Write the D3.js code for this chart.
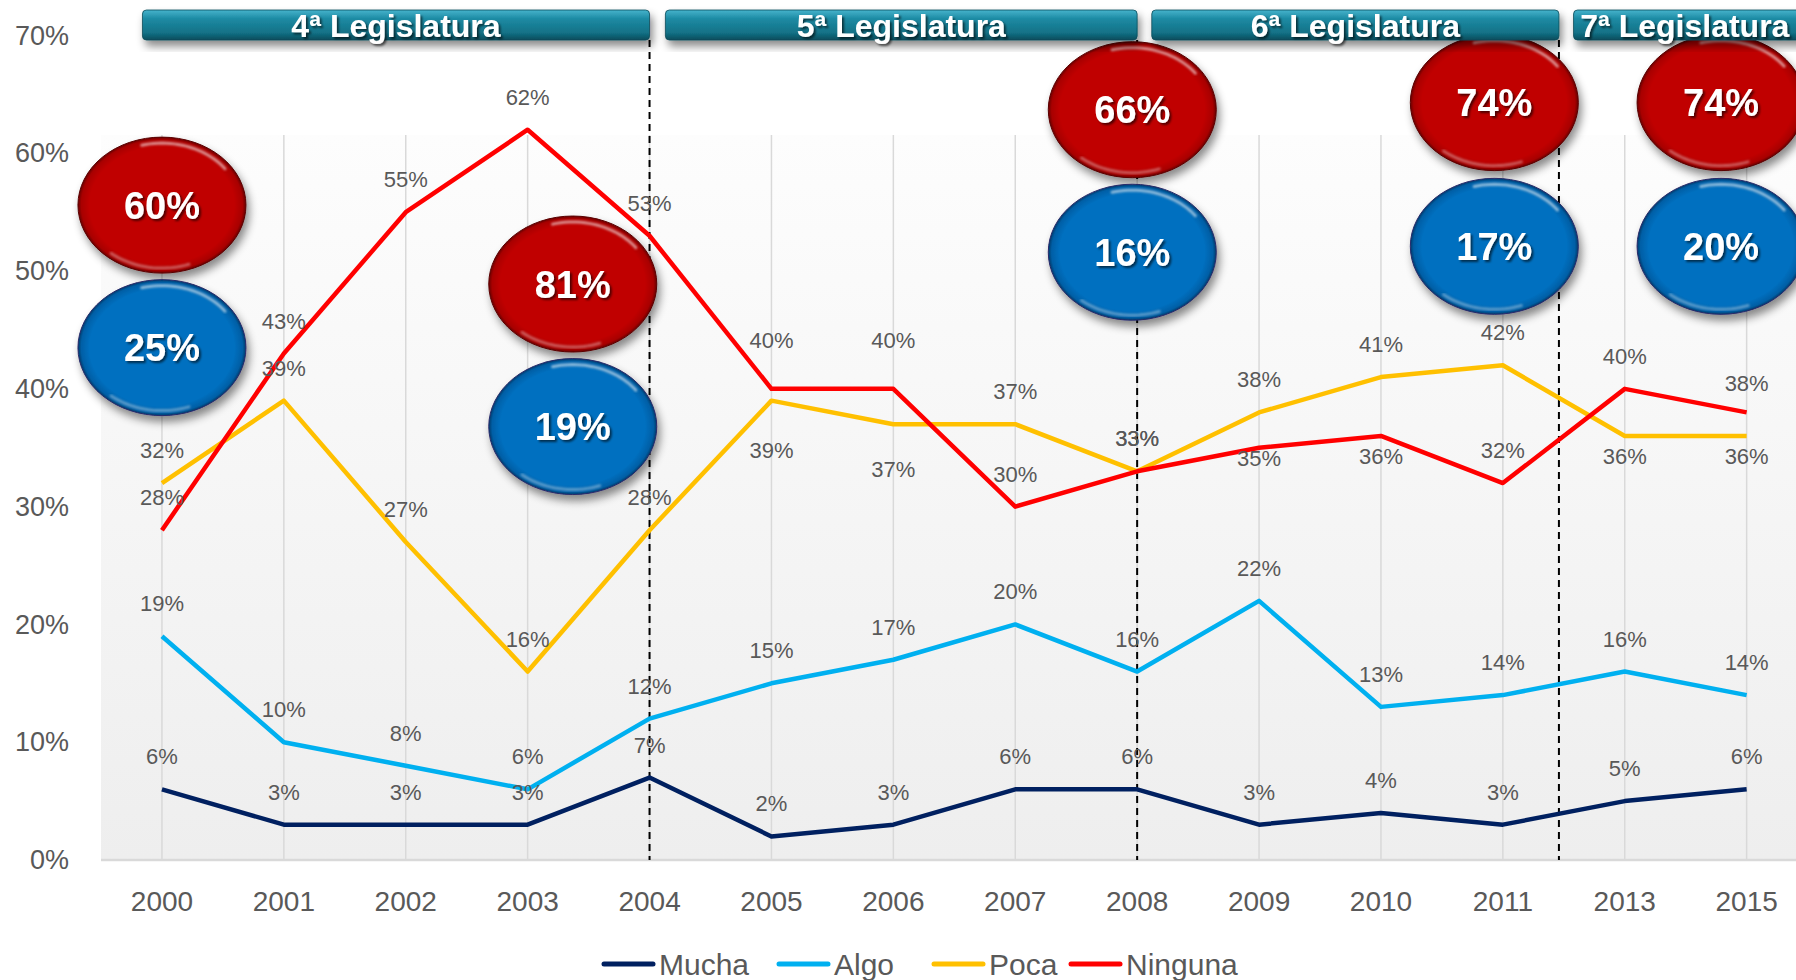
<!DOCTYPE html>
<html>
<head>
<meta charset="utf-8">
<script src="https://cdn.jsdelivr.net/npm/d3@7"></script>
<style>
body { margin: 0; background: #fff; }
svg { display: block; font-family: "Liberation Sans", Arial, sans-serif; }
</style>
</head>
<body>
<script>
// data
var years = ["2000", "2001", "2002", "2003", "2004", "2005", "2006", "2007", "2008", "2009", "2010", "2011", "2013", "2015"];
var mucha = [6, 3, 3, 3, 7, 2, 3, 6, 6, 3, 4, 3, 5, 6];
var algo = [19, 10, 8, 6, 12, 15, 17, 20, 16, 22, 13, 14, 16, 14];
var poca = [32, 39, 27, 16, 28, 39, 37, 37, 33, 38, 41, 42, 36, 36];
var ninguna = [28, 43, 55, 62, 53, 40, 40, 30, 33, 35, 36, 32, 40, 38];
var seriesNames = ["Mucha", "Algo", "Poca", "Ninguna"];
var yTicks = [0, 10, 20, 30, 40, 50, 60, 70];

// legislaturas (spans given in category index units)
var legislaturas = ["4ª Legislatura", "5ª Legislatura", "6ª Legislatura", "7ª Legislatura"];
var legStart = [-0.16, 4.13, 8.12, 11.58];
var legEnd = [4, 8, 11.46, 13.7];
var dividers = [4, 8, 11.46];

// bubbles: top (red) and bottom (blue) values
var bubbleTop = ["60%", "81%", "66%", "74%", "74%"];
var bubbleBottom = ["25%", "19%", "16%", "17%", "20%"];
var bubbleIdx = [0, 3.37, 7.96, 10.93, 12.79];
var bubbleTopLevel = [55.6, 48.9, 63.7, 64.3, 64.3];
var bubbleBottomLevel = [43.5, 36.8, 51.6, 52.1, 52.1];

var series = [mucha, algo, poca, ninguna];
var colors = ["#002060", "#00b0f0", "#ffc000", "#ff0000"];

// labels that were moved off the default "above" spot (pixel shift of label centre)
var labelShift = {
    "Poca-2005": 49, "Poca-2006": 45, "Poca-2013": 20, "Poca-2015": 20,
    "Ninguna-2005": -49, "Ninguna-2006": -49,
    "Ninguna-2009": 10, "Ninguna-2010": 20, "Ninguna-2015": -29
};

var width = 1796, height = 980;
var left = 101, bw = 121.9;
var bottom = 860, plotTop = 135;

var svg = d3.select("body").append("svg")
    .attr("width", width)
    .attr("height", height);

var defs = svg.append("defs");

var bg = defs.append("linearGradient").attr("id", "bg")
    .attr("x1", 0).attr("y1", 0).attr("x2", 0).attr("y2", 1);
bg.append("stop").attr("offset", "0%").attr("stop-color", "#fdfdfd");
bg.append("stop").attr("offset", "100%").attr("stop-color", "#eeeeee");

var teal = defs.append("linearGradient").attr("id", "teal")
    .attr("x1", 0).attr("y1", 0).attr("x2", 0).attr("y2", 1);
teal.append("stop").attr("offset", "0%").attr("stop-color", "#45b3cc");
teal.append("stop").attr("offset", "30%").attr("stop-color", "#1d8aa3");
teal.append("stop").attr("offset", "75%").attr("stop-color", "#137287");
teal.append("stop").attr("offset", "100%").attr("stop-color", "#0a4c5c");

function ballGrad(id, c0, c1, c2) {
    var g = defs.append("radialGradient").attr("id", id)
        .attr("cx", "50%").attr("cy", "50%").attr("r", "50%");
    g.append("stop").attr("offset", "0%").attr("stop-color", c0);
    g.append("stop").attr("offset", "86%").attr("stop-color", c0);
    g.append("stop").attr("offset", "96%").attr("stop-color", c1);
    g.append("stop").attr("offset", "100%").attr("stop-color", c2);
}
ballGrad("red", "#c00000", "#a80000", "#6a0000");
ballGrad("blue", "#0070c0", "#005fa6", "#003a6a");

var sh = defs.append("filter").attr("id", "shadow")
    .attr("x", "-20%").attr("y", "-20%").attr("width", "150%").attr("height", "160%");
sh.append("feDropShadow").attr("dx", 3).attr("dy", 6).attr("stdDeviation", 4)
    .attr("flood-color", "#000").attr("flood-opacity", 0.45);

var tsh = defs.append("filter").attr("id", "tshadow")
    .attr("x", "-10%").attr("y", "-20%").attr("width", "130%").attr("height", "150%");
tsh.append("feDropShadow").attr("dx", 2).attr("dy", 2).attr("stdDeviation", 1)
    .attr("flood-color", "#000").attr("flood-opacity", 0.6);

var blur = defs.append("filter").attr("id", "blur");
blur.append("feGaussianBlur").attr("stdDeviation", 1.2);

// scales
var x = d3.scaleBand().domain(years).range([left, left + bw * years.length]);
var xi = d3.scaleLinear().domain([-0.5, years.length - 0.5]).range([left, left + bw * years.length]);
var y = d3.scaleLinear().domain([0, 70]).range([bottom, 35.5]);

// plot background
svg.append("rect")
    .attr("x", left).attr("y", plotTop)
    .attr("width", width - left).attr("height", bottom - plotTop)
    .attr("fill", "url(#bg)");

// vertical gridlines
svg.selectAll(".grid")
    .data(years)
    .enter()
    .append("line")
    .attr("x1", function(d) { return x(d) + x.bandwidth() / 2; })
    .attr("x2", function(d) { return x(d) + x.bandwidth() / 2; })
    .attr("y1", plotTop).attr("y2", bottom)
    .attr("stroke", "#d9d9d9").attr("stroke-width", 1.5);

svg.append("line")
    .attr("x1", left).attr("x2", width)
    .attr("y1", bottom).attr("y2", bottom)
    .attr("stroke", "#d9d9d9").attr("stroke-width", 2.5);

// axes
var yAxis = svg.append("g")
    .attr("transform", "translate(69,0)")
    .call(d3.axisLeft(y).tickValues(yTicks).tickSize(0).tickPadding(0)
        .tickFormat(function(d) { return d + "%"; }));
yAxis.select(".domain").remove();
yAxis.selectAll("text").attr("font-size", 27).attr("fill", "#595959")
    .attr("font-family", "Liberation Sans, Arial, sans-serif");

var xAxis = svg.append("g")
    .attr("transform", "translate(0," + bottom + ")")
    .call(d3.axisBottom(x).tickSize(0).tickPadding(31));
xAxis.select(".domain").remove();
xAxis.selectAll("text").attr("font-size", 28).attr("fill", "#595959")
    .attr("font-family", "Liberation Sans, Arial, sans-serif");

// dashed dividers
svg.selectAll(".div")
    .data(dividers)
    .enter()
    .append("line")
    .attr("x1", function(d) { return xi(d); })
    .attr("x2", function(d) { return xi(d); })
    .attr("y1", 40).attr("y2", bottom)
    .attr("stroke", "#000").attr("stroke-width", 2)
    .attr("stroke-dasharray", "7,5");

// lines
var line = d3.line()
    .x(function(d, i) { return x(years[i]) + x.bandwidth() / 2; })
    .y(function(d) { return y(d); });

series.forEach(function(s, k) {
    svg.append("path")
        .datum(s)
        .attr("d", line)
        .attr("fill", "none")
        .attr("stroke", colors[k])
        .attr("stroke-width", 4.5)
        .attr("stroke-linejoin", "round");
});

// data labels
series.forEach(function(s, k) {
    svg.selectAll(".lbl" + k)
        .data(s)
        .enter()
        .append("text")
        .attr("x", function(d, i) { return x(years[i]) + x.bandwidth() / 2; })
        .attr("y", function(d, i) {
            var key = seriesNames[k] + "-" + years[i];
            var shift = key in labelShift ? labelShift[key] : -33;
            return y(d) + shift + 8;
        })
        .attr("text-anchor", "middle")
        .attr("font-size", 22)
        .attr("fill", "#595959")
        .text(function(d) { return d + "%"; });
});

// bubbles
var rx = 84, ry = 68;
function bubble(cx, cy, label, fill) {
    var g = svg.append("g").attr("transform", "translate(" + cx + "," + cy + ")");
    g.append("ellipse").attr("rx", rx).attr("ry", ry)
        .attr("fill", "url(#" + fill + ")")
        .attr("stroke", fill == "red" ? "#5a0000" : "#2a2a6a")
        .attr("stroke-width", 1)
        .attr("filter", "url(#shadow)");
    // bevel highlights
    var arc = function(a0, a1, k) {
        var pts = d3.range(a0, a1 + 1, 3).map(function(a) {
            var t = a * Math.PI / 180;
            return [Math.cos(t) * (rx - k), Math.sin(t) * (ry - k)];
        });
        return d3.line()(pts);
    };
    g.append("path").attr("d", arc(-105, -35, 6))
        .attr("fill", "none").attr("stroke", "#fff").attr("stroke-opacity", 0.55)
        .attr("stroke-width", 3).attr("stroke-linecap", "round").attr("filter", "url(#blur)");
    g.append("path").attr("d", arc(70, 130, 5))
        .attr("fill", "none").attr("stroke", "#fff").attr("stroke-opacity", 0.35)
        .attr("stroke-width", 3).attr("stroke-linecap", "round").attr("filter", "url(#blur)");
    g.append("text")
        .attr("text-anchor", "middle")
        .attr("dy", "0.36em")
        .attr("font-size", 38)
        .attr("font-weight", "bold")
        .attr("fill", "#fff")
        .attr("filter", "url(#tshadow)")
        .text(label);
}

bubbleIdx.forEach(function(d, i) {
    bubble(xi(d), y(bubbleTopLevel[i]), bubbleTop[i], "red");
    bubble(xi(d), y(bubbleBottomLevel[i]), bubbleBottom[i], "blue");
});

// legislatura banners
legislaturas.forEach(function(name, i) {
    var x0 = xi(legStart[i]), x1 = xi(legEnd[i]);
    var g = svg.append("g");
    g.append("rect")
        .attr("x", x0).attr("y", 10)
        .attr("width", x1 - x0).attr("height", 30)
        .attr("rx", 4)
        .attr("fill", "url(#teal)")
        .attr("stroke", "#0a4a58").attr("stroke-width", 0.8)
        .attr("filter", "url(#shadow)");
    g.append("text")
        .attr("x", (x0 + Math.min(x1, width)) / 2)
        .attr("y", 37)
        .attr("text-anchor", "middle")
        .attr("font-size", 32)
        .attr("font-weight", "bold")
        .attr("fill", "#fff")
        .attr("filter", "url(#tshadow)")
        .text(name);
});

// legend
var legendX = [604, 779, 934, 1071];
seriesNames.forEach(function(name, k) {
    var lx = legendX[k];
    svg.append("line")
        .attr("x1", lx).attr("x2", lx + 49)
        .attr("y1", 964).attr("y2", 964)
        .attr("stroke", colors[k]).attr("stroke-width", 5)
        .attr("stroke-linecap", "round");
    svg.append("text")
        .attr("x", lx + 55).attr("y", 975)
        .attr("font-size", 30)
        .attr("fill", "#595959")
        .text(name);
});
</script>
</body>
</html>
